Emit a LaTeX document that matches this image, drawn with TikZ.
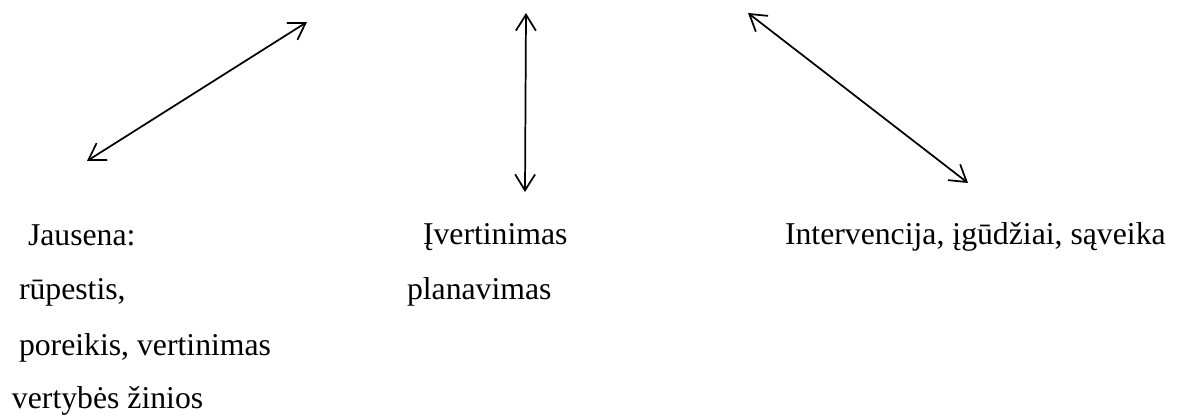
\documentclass[tikz,border=0pt]{standalone}
\usepackage{fontspec}
\setmainfont{Liberation Serif}
\usetikzlibrary{arrows.meta}
\begin{document}
\begin{tikzpicture}[x=0.75pt,y=-0.75pt,
  lbl/.style={anchor=base west,inner sep=0pt,outer sep=0pt,font=\fontsize{23.8}{28}\selectfont},
  link/.style={line width=1.3pt,{Straight Barb[length=12pt,width=15pt,line width=1.3pt]}-{Straight Barb[length=12pt,width=15pt,line width=1.3pt]}}]
\useasboundingbox (0,0) rectangle (1179,417);
% arrow end points
\coordinate (a1) at (87,161);
\coordinate (b1) at (307,22);
\coordinate (a2) at (526,13);
\coordinate (b2) at (525,192);
\coordinate (a3) at (748,13);
\coordinate (b3) at (968,183);
\draw[link] (a1) -- (b1);
\draw[link] (a2) -- (b2);
\draw[link] (a3) -- (b3);
% labels
\node[lbl] (j1) at (28,246) {Jausena:};
\node[lbl] (j2) at (19,300) {rūpestis,};
\node[lbl] (j3) at (19,355) {poreikis, vertinimas};
\node[lbl] (j4) at (12,408) {vertybės žinios};
\node[lbl] (v1) at (423,245) {Įvertinimas};
\node[lbl] (v2) at (407,300) {planavimas};
\node[lbl] (i1) at (785,245) {Intervencija, įgūdžiai, sąveika};
\end{tikzpicture}
\end{document}
